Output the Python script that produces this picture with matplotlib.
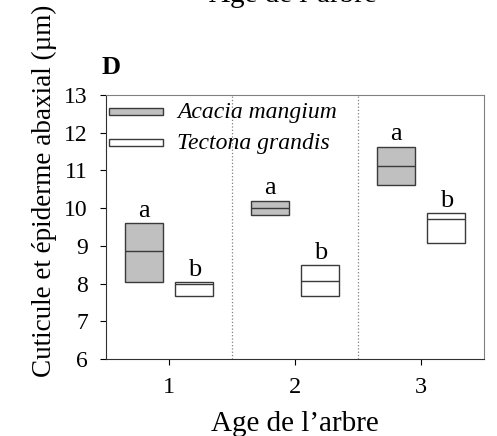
import matplotlib

matplotlib.use("Agg")
import matplotlib.pyplot as plt
from matplotlib.patches import Rectangle

plt.rcParams["font.family"] = ["Liberation Serif", "DejaVu Serif"]

# Epaisseur cuticule + épiderme abaxial (µm) selon l'âge de l'arbre
ages = [1, 2, 3]
acacia_low = [8.05, 9.81, 10.61]
acacia_med = [8.86, 10.00, 11.11]
acacia_high = [9.61, 10.20, 11.63]
tectona_low = [7.67, 7.66, 9.08]
tectona_med = [7.98, 8.06, 9.71]
tectona_high = [8.03, 8.49, 9.86]
acacia_letters = ["a", "a", "a"]
tectona_letters = ["b", "b", "b"]
species = ["Acacia mangium", "Tectona grandis"]

GREY_FILL = "#c0c0c0"
EDGE = "#3a3a3a"
SHIFT = 0.2
WIDTH = 0.3

fig = plt.figure(figsize=(4.97, 4.36), dpi=100)
ax = fig.add_axes([106 / 497, 1 - 359 / 436, 378 / 497, 264 / 436])


def draw_boxes(xs, low, med, high, letters, face):
    heights = [h - l for h, l in zip(high, low)]
    ax.bar(xs, heights, bottom=low, width=WIDTH, color=face,
           edgecolor=EDGE, linewidth=1.0, zorder=3)
    ax.hlines(med, [x - WIDTH / 2 for x in xs], [x + WIDTH / 2 for x in xs],
              color=EDGE, linewidth=1.0, zorder=4)
    for x, top, letter in zip(xs, high, letters):
        ax.annotate(letter, (x, top), xytext=(0, 4.5), textcoords="offset points",
                    ha="center", va="baseline", fontsize=19)


draw_boxes([a - SHIFT for a in ages], acacia_low, acacia_med, acacia_high,
           acacia_letters, GREY_FILL)
draw_boxes([a + SHIFT for a in ages], tectona_low, tectona_med, tectona_high,
           tectona_letters, "white")

for sep in (1.5, 2.5):
    ax.axvline(sep, color="#808080", linestyle=":", linewidth=0.9, zorder=1)

ax.set_xlim(0.5, 3.5)
ax.set_ylim(6, 13)
ax.set_xticks(ages)
ax.set_yticks(range(6, 14))
ax.tick_params(axis="x", direction="out", length=4, width=0.8, pad=9,
               labelsize=17.5)
ax.tick_params(axis="y", direction="out", length=4, width=0.8, pad=9,
               labelsize=17)
for side in ("left", "bottom"):
    ax.spines[side].set_color("#303030")
for side in ("top", "right"):
    ax.spines[side].set_color("#808080")

# légende dessinée à la main : clés plates, texte centré sur la clé
key_rows = [(0.924, 0.913), (0.806, 0.794)]
for (key_y, text_y), face, name in zip(key_rows, [GREY_FILL, "white"], species):
    ax.add_patch(Rectangle((0.008, key_y), 0.143, 0.028, transform=ax.transAxes,
                           facecolor=face, edgecolor=EDGE, linewidth=1.0,
                           zorder=5))
    ax.text(0.188, text_y, name, transform=ax.transAxes, ha="left",
            va="baseline", fontsize=17, style="italic", zorder=5)

fig.text(44 / 497, 1 - 191 / 436, "Cuticule et épiderme abaxial (µm)",
         rotation=90, ha="center", va="center", fontsize=19.5)
fig.text(295 / 497, 1 - 431 / 436, "Age de l\u2019arbre", ha="center",
         va="baseline", fontsize=21)
# titre du panneau précédent, coupé par le bord
fig.text(293 / 497, 1 - 2 / 436, "Age de l\u2019arbre", ha="center",
         va="baseline", fontsize=21)
fig.text(102 / 497, 1 - 74 / 436, "D", ha="left", va="baseline",
         fontsize=19, fontweight="bold")

fig.savefig("out.png", dpi=100)
